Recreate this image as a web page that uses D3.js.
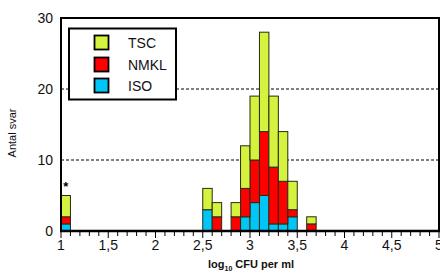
<!DOCTYPE html>
<html><head><meta charset="utf-8">
<script src="https://cdn.jsdelivr.net/npm/d3@7"></script>
<style>body{margin:0;background:#fff}svg{display:block}text{font-family:"Liberation Sans",Arial,sans-serif}</style>
</head><body><div id="c"></div>
<script>
const binStarts = [1.0, 2.5, 2.6, 2.8, 2.9, 3.0, 3.1, 3.2, 3.3, 3.4, 3.6];
const iso  = [1, 3, 0, 0, 2, 4, 5, 1, 1, 2, 0];
const nmkl = [1, 0, 2, 2, 4, 6, 9, 8, 6, 1, 1];
const tsc  = [3, 3, 2, 2, 6, 9, 14, 10, 7, 4, 1];
const seriesNames = ["TSC", "NMKL", "ISO"];
const seriesColors = {TSC: "#d5f23e", NMKL: "#ff0000", ISO: "#00c6f8"};
const xMajor = [1, 1.5, 2, 2.5, 3, 3.5, 4, 4.5, 5];
const xMajorLabels = ["1", "1,5", "2", "2,5", "3", "3,5", "4", "4,5", "5"];
const yTicks = [0, 10, 20, 30];
const gridLines = [10, 20];
const binWidth = 0.1;

const W = 440, H = 273;
const svg = d3.select("#c").append("svg").attr("width", W).attr("height", H);
const x = d3.scaleLinear().domain([1, 5]).range([61, 439]);
const y = d3.scaleLinear().domain([0, 30]).range([231, 18]);

// gridlines
svg.selectAll(".grid").data(gridLines).enter().append("line")
  .attr("x1", x(1)).attr("x2", x(5)).attr("y1", d => y(d)).attr("y2", d => y(d))
  .attr("stroke", "#000").attr("stroke-width", 1).attr("stroke-dasharray", "3,2");

// stacked bars
const rows = binStarts.map((b, i) => ({b, ISO: iso[i], NMKL: nmkl[i], TSC: tsc[i]}));
const stack = d3.stack().keys(["ISO", "NMKL", "TSC"])(rows);
stack.forEach(layer => {
  svg.append("g").selectAll("rect").data(layer.filter(d => d[1] > d[0])).enter().append("rect")
    .attr("x", d => x(d.data.b))
    .attr("width", d => x(d.data.b + binWidth) - x(d.data.b))
    .attr("y", d => y(d[1]))
    .attr("height", d => y(d[0]) - y(d[1]))
    .attr("fill", seriesColors[layer.key])
    .attr("stroke", "#2a2a10").attr("stroke-width", 1);
});

// frame
svg.append("path")
  .attr("d", `M${x(1)},${y(0)}V${y(30)}H${x(5)}V${y(0)}`)
  .attr("fill", "none").attr("stroke", "#000").attr("stroke-width", 2);
svg.append("line").attr("x1", x(1) - 1).attr("x2", x(5) + 1).attr("y1", y(0)).attr("y2", y(0))
  .attr("stroke", "#000").attr("stroke-width", 2.5);

// x axis ticks
const minor = d3.range(10, 51).map(v => v / 10);
svg.selectAll(".mt").data(minor).enter().append("line")
  .attr("x1", d => x(d)).attr("x2", d => x(d)).attr("y1", y(0)).attr("y2", d => y(0) + (xMajor.includes(d) ? 7 : 5))
  .attr("stroke", "#000").attr("stroke-width", 1);
svg.selectAll(".xl").data(xMajor).enter().append("text")
  .attr("x", d => x(d)).attr("y", 250).attr("text-anchor", "middle")
  .attr("font-size", 14).attr("fill", "#111").text((d, i) => xMajorLabels[i]);

// y axis labels
svg.selectAll(".yl").data(yTicks).enter().append("text")
  .attr("x", 53).attr("y", d => y(d) + 5).attr("text-anchor", "end")
  .attr("font-size", 14).attr("fill", "#111").text(d => d);

// axis titles
const xt = svg.append("text").attr("x", 251).attr("y", 268).attr("text-anchor", "middle")
  .attr("font-size", 11).attr("font-weight", "bold").attr("fill", "#111");
xt.append("tspan").text("log");
xt.append("tspan").attr("font-size", 7).attr("dy", 3).text("10");
xt.append("tspan").attr("dy", -3).text(" CFU per ml");
svg.append("text").attr("transform", "translate(16,133) rotate(-90)").attr("text-anchor", "middle")
  .attr("font-size", 11).attr("fill", "#111").text("Antal svar");

// asterisk
svg.append("text").attr("x", x(1.05)).attr("y", y(5) - 5).attr("text-anchor", "middle")
  .attr("font-size", 13).attr("font-weight", "bold").text("*");

// legend
svg.append("rect").attr("x", 69).attr("y", 28.5).attr("width", 107).attr("height", 71)
  .attr("fill", "#fff").attr("stroke", "#000").attr("stroke-width", 2);
const legY = [35, 57, 78];
seriesNames.forEach((s, i) => {
  svg.append("rect").attr("x", 94.5).attr("y", legY[i] + 0.5).attr("width", 14).attr("height", 14)
    .attr("fill", seriesColors[s]).attr("stroke", "#000").attr("stroke-width", 1.8);
  svg.append("text").attr("x", 128).attr("y", legY[i] + 13).attr("font-size", 14)
    .attr("fill", "#111").text(s);
});
</script></body></html>
